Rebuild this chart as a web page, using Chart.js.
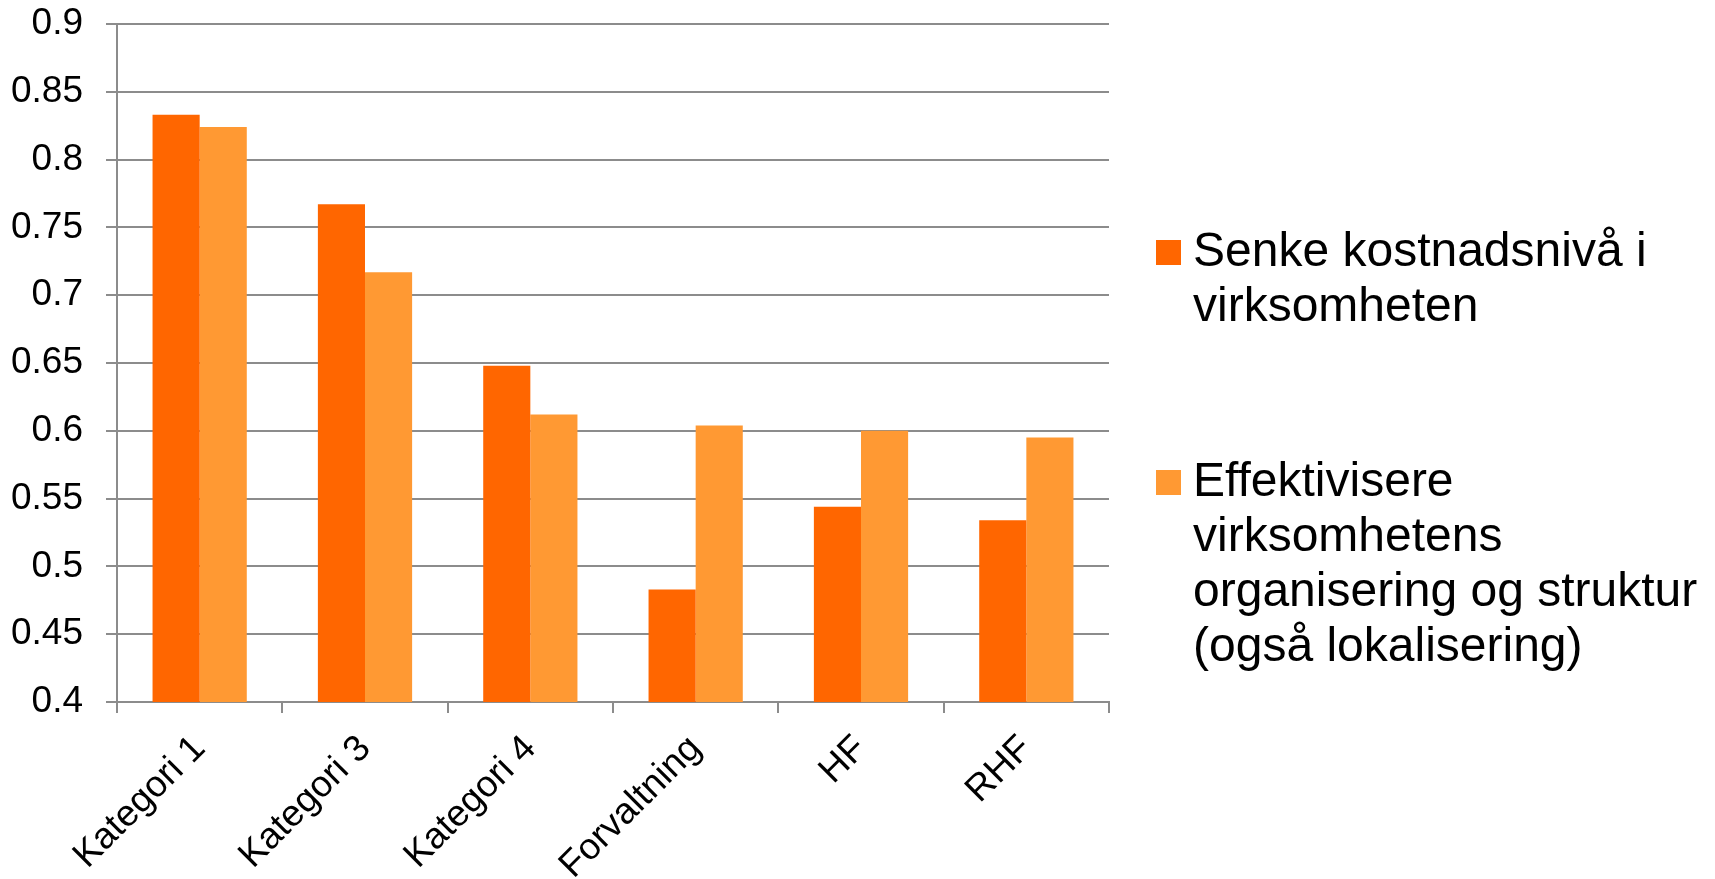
<!DOCTYPE html>
<html>
<head>
<meta charset="utf-8">
<script src="https://cdn.jsdelivr.net/npm/chart.js@4.4.1/dist/chart.umd.min.js"></script>
<style>
  body { margin: 0; background: #fff; }
  #wrap { position: relative; width: 1715px; height: 879px; }
  #legend {
    position: absolute; left: 1156px; top: 222px;
    font-family: "Liberation Sans", Arial, sans-serif; font-size: 48px; line-height: 55px; color: #000;
  }
  .item { position: relative; padding-left: 37px; margin-bottom: 120px; white-space: nowrap; }
  .item .box { position: absolute; left: 0; top: 18px; width: 25px; height: 25px; }
</style>
</head>
<body>
<div id="wrap">
  <canvas id="myChart" width="1715" height="879"></canvas>
  <div id="legend"></div>
</div>
<script>
// categories and values
const categories = ['Kategori 1', 'Kategori 3', 'Kategori 4', 'Forvaltning', 'HF', 'RHF'];
const senke = [0.833, 0.767, 0.648, 0.483, 0.544, 0.534];
const effektivisere = [0.824, 0.717, 0.612, 0.604, 0.600, 0.595];
const seriesNames = [
    ['Senke kostnadsnivå i', 'virksomheten'],
    ['Effektivisere', 'virksomhetens', 'organisering og struktur', '(også lokalisering)']
];
const seriesColors = ['#ff6600', '#ff9933'];
const yTicks = { min: 0.4, max: 0.9, step: 0.05 };

const font = '"Liberation Sans", Arial, sans-serif';
const grey = '#8c8c8c';

// setup
const data = {
    labels: categories,
    datasets: [
        {
            label: seriesNames[0],
            data: senke,
            backgroundColor: seriesColors[0],
            borderWidth: 0,
            categoryPercentage: 0.57,
            barPercentage: 1
        },
        {
            label: seriesNames[1],
            data: effektivisere,
            backgroundColor: seriesColors[1],
            borderWidth: 0,
            categoryPercentage: 0.57,
            barPercentage: 1
        }
    ]
};

// html legend, built from the chart's own legend items
const htmlLegend = {
    id: 'htmlLegend',
    afterUpdate(chart) {
        const box = document.getElementById('legend');
        box.innerHTML = '';
        const items = chart.options.plugins.legend.labels.generateLabels(chart);
        items.forEach(item => {
            const div = document.createElement('div');
            div.className = 'item';
            const sw = document.createElement('span');
            sw.className = 'box';
            sw.style.background = item.fillStyle;
            div.appendChild(sw);
            const lines = Array.isArray(item.text) ? item.text : [item.text];
            lines.forEach((line, i) => {
                if (i > 0) div.appendChild(document.createElement('br'));
                div.appendChild(document.createTextNode(line));
            });
            box.appendChild(div);
        });
    }
};

// config
const chartInfo = {
    type: 'bar',
    data: data,
    options: {
        responsive: false,
        animation: false,
        layout: { padding: { top: 24, right: 606, bottom: 0, left: 0 } },
        plugins: {
            legend: { display: false },
            tooltip: { enabled: false }
        },
        scales: {
            x: {
                grid: { display: true, drawOnChartArea: false, drawTicks: true, tickLength: 11, color: grey, lineWidth: 2 },
                border: { display: true, color: grey, width: 2 },
                ticks: {
                    color: '#000',
                    font: { family: font, size: 37 },
                    minRotation: 45, maxRotation: 45,
                    padding: 14
                },
                afterFit: s => { s.height = 177; s.paddingLeft = 0; s.paddingRight = 0; }
            },
            y: {
                min: yTicks.min,
                max: yTicks.max,
                grid: { color: grey, lineWidth: 2, tickLength: 11 },
                border: { display: true, color: grey, width: 2 },
                ticks: {
                    stepSize: yTicks.step,
                    color: '#000',
                    font: { family: font, size: 37 },
                    padding: 23,
                    callback: v => String(parseFloat(v.toFixed(2)))
                },
                afterFit: s => { s.width = 117; s.paddingTop = 0; s.paddingBottom = 0; }
            }
        }
    },
    plugins: [htmlLegend]
};

new Chart(document.getElementById('myChart'), chartInfo);
</script>
</body>
</html>
